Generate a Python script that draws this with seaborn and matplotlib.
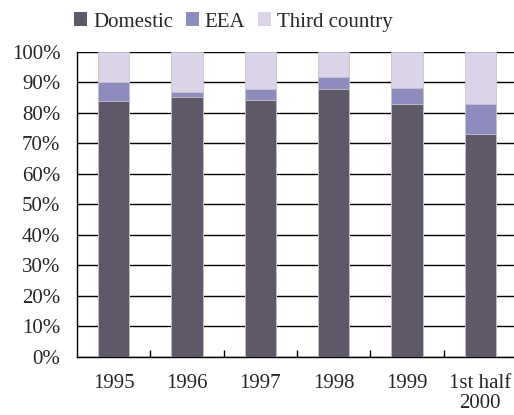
import matplotlib
matplotlib.use("Agg")
import matplotlib.pyplot as plt
import seaborn as sns
import numpy as np
from matplotlib.patches import Patch
from matplotlib.ticker import MultipleLocator, FuncFormatter, FixedLocator

categories = ["1995", "1996", "1997", "1998", "1999", "1st half\n2000"]
domestic = [83.9, 85.0, 84.2, 87.7, 82.8, 73.0]
eea = [6.1, 1.9, 3.7, 4.1, 5.4, 9.8]
third = [10.0, 13.1, 12.1, 8.2, 11.8, 17.2]
series_names = ["Domestic", "EEA", "Third country"]
colors = ["#5e5868", "#8e8cbd", "#dbd4e8"]

sns.set_style("white")
plt.rcParams["font.family"] = ["Liberation Serif", "DejaVu Serif"]

fig = plt.figure(figsize=(5.14, 4.15), dpi=100)
ax = fig.add_axes([77 / 514, 1 - 357 / 415, 1 - 77 / 514, (357 - 51.7) / 415])

d = np.array(domestic)
e = np.array(eea)
t = np.array(third)
stacks = [d + e + t, d + e, d]
stack_colors = [colors[2], colors[1], colors[0]]
for vals, c in zip(stacks, stack_colors):
    sns.barplot(x=categories, y=vals, color=c, saturation=1, width=0.43,
                edgecolor="#c8c4d0", linewidth=0.6, ax=ax, zorder=3)

ax.set_ylim(0, 100)
ax.set_xlim(-0.5, 5.46)
ax.yaxis.set_major_locator(MultipleLocator(10))
ax.yaxis.set_major_formatter(FuncFormatter(lambda v, p: f"{int(round(v))}%"))
ax.grid(axis="y", color="black", linewidth=1.0, zorder=0)
ax.set_axisbelow(True)
for s in ["top", "right"]:
    ax.spines[s].set_visible(False)
for s in ["left", "bottom"]:
    ax.spines[s].set_color("black")
    ax.spines[s].set_linewidth(1.0)

ax.xaxis.set_minor_locator(FixedLocator(np.arange(0.5, 6, 1.0)))
ax.tick_params(axis="x", which="both", direction="in", length=5, width=1,
               color="black", labelsize=15, pad=12, bottom=True)
ax.tick_params(axis="y", which="major", length=0, labelsize=15, pad=12, left=False)
for lab in ax.get_xticklabels():
    lab.set_linespacing(1.1)
ax.set_xlabel("")
ax.set_ylabel("")

handles = [Patch(facecolor=c, edgecolor="none") for c in colors]
fig.legend(handles, series_names, loc="center left",
           bbox_to_anchor=(74 / 514, 1 - 22 / 415), ncol=3, frameon=False,
           fontsize=15, handlelength=0.62, handleheight=0.62,
           handletextpad=0.3, columnspacing=0.6, borderpad=0, borderaxespad=0)

fig.savefig("out.png", dpi=100)
